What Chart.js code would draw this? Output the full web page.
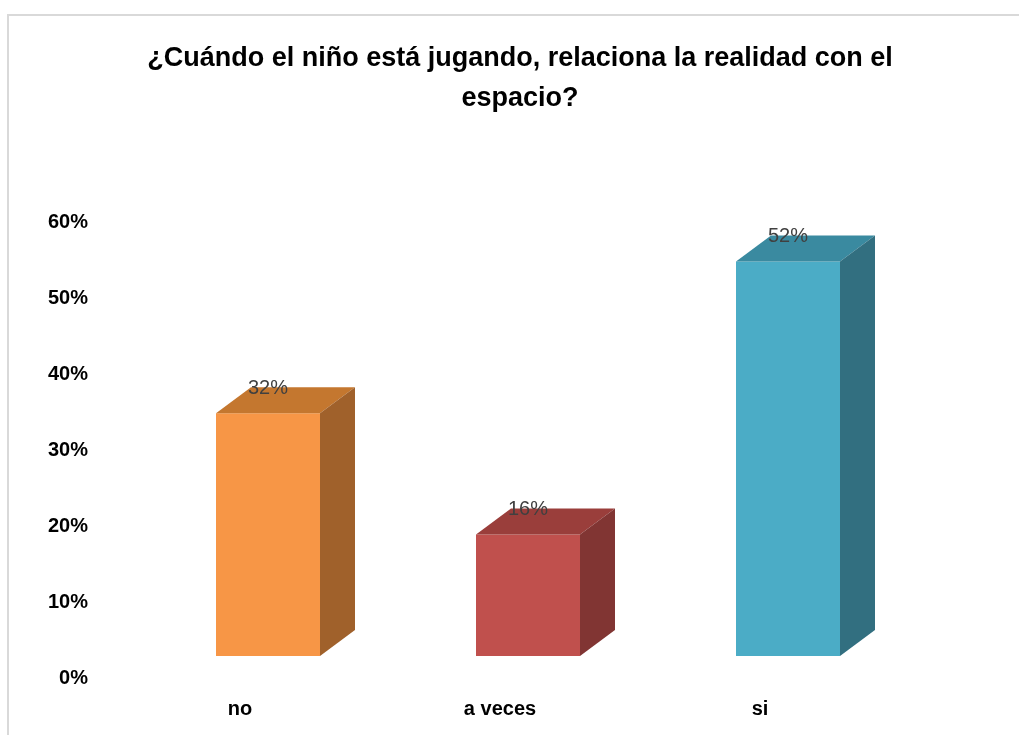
<!DOCTYPE html>
<html>
<head>
<meta charset="utf-8">
<script src="https://cdn.jsdelivr.net/npm/chart.js@4.4.0/dist/chart.umd.min.js"></script>
<style>
  html, body { margin: 0; padding: 0; background: #fff; }
  #wrap { width: 1019px; height: 735px; }
</style>
</head>
<body>
<div id="wrap"><canvas id="myChart" width="1019" height="735"></canvas></div>
<script>
  // datos
  const categories = ['no', 'a veces', 'si']
  const values = [0.32, 0.16, 0.52]
  const frontColors = ['#F79646', '#C0504D', '#4BACC6']
  const topColors = ['#C4772F', '#9A3E3B', '#3A8AA0']
  const sideColors = ['#A0612B', '#813533', '#326F80']

  const fontFamily = '"Liberation Sans", Arial, sans-serif'

  // marco gris del grafico
  const frame = {
    id: 'frame',
    beforeDraw(chart) {
      const c = chart.ctx
      c.save()
      c.strokeStyle = '#D9D9D9'
      c.lineWidth = 2
      c.beginPath()
      c.moveTo(8, chart.height)
      c.lineTo(8, 15)
      c.lineTo(chart.width, 15)
      c.stroke()
      c.restore()
    }
  }

  // barras en 3D: cara frontal movida, tapa y lateral
  const bars3d = {
    id: 'bars3d',
    beforeDatasetsDraw(chart, args, opts) {
      chart.ctx.save()
      chart.ctx.translate(opts.shiftX, -opts.shiftY)
    },
    afterDatasetsDraw(chart, args, opts) {
      const c = chart.ctx
      c.restore()
      const meta = chart.getDatasetMeta(0)
      const dx = opts.depthX
      const dy = opts.depthY
      meta.data.forEach((bar, i) => {
        const l = bar.x - bar.width / 2 + opts.shiftX
        const r = bar.x + bar.width / 2 + opts.shiftX
        const t = bar.y - opts.shiftY
        const b = bar.base - opts.shiftY
        // tapa
        c.fillStyle = topColors[i]
        c.beginPath()
        c.moveTo(l, t)
        c.lineTo(l + dx, t - dy)
        c.lineTo(r + dx, t - dy)
        c.lineTo(r, t)
        c.closePath()
        c.fill()
        // lateral
        c.fillStyle = sideColors[i]
        c.beginPath()
        c.moveTo(r, t)
        c.lineTo(r + dx, t - dy)
        c.lineTo(r + dx, b - dy)
        c.lineTo(r, b)
        c.closePath()
        c.fill()
        // etiqueta
        c.fillStyle = '#404040'
        c.font = '20px ' + fontFamily
        c.textAlign = 'center'
        c.textBaseline = 'middle'
        c.fillText(Math.round(values[i] * 100) + '%', bar.x + opts.shiftX, t - dy + 1)
      })
    }
  }

  const ctx = document.getElementById('myChart')

  // eslint-disable-next-line no-unused-vars
  const myChart = new Chart(ctx, {
    type: 'bar',
    plugins: [frame, bars3d],
    data: {
      labels: categories,
      datasets: [{
        data: values,
        backgroundColor: frontColors,
        borderWidth: 0,
        categoryPercentage: 0.8,
        barPercentage: 0.5,
      }]
    },
    options: {
      responsive: false,
      animation: false,
      layout: {
        padding: { left: 21, right: 0, top: 0, bottom: 0 }
      },
      plugins: {
        legend: { display: false },
        tooltip: { enabled: false },
        title: {
          display: true,
          text: ['¿Cuándo el niño está jugando, relaciona la realidad con el', 'espacio?'],
          color: '#000',
          font: { family: fontFamily, size: 27, weight: 'bold', lineHeight: 1.46 },
          padding: { top: 39, bottom: 105 },
        },
        bars3d: { shiftX: 28, shiftY: 22, depthX: 35, depthY: 26 },
      },
      scales: {
        x: {
          grid: { display: false, drawTicks: false },
          border: { display: false },
          ticks: {
            padding: 19,
            color: '#000',
            font: { family: fontFamily, size: 20, weight: 'bold' },
          },
          afterFit(scale) { scale.height = 57 },
        },
        y: {
          min: 0,
          max: 0.6,
          grid: { display: false, drawTicks: false },
          border: { display: false },
          ticks: {
            stepSize: 0.1,
            padding: 22,
            color: '#000',
            font: { family: fontFamily, size: 20, weight: 'bold' },
            callback: (v) => Math.round(v * 100) + '%',
          },
          afterFit(scale) { scale.width = 89 },
        },
        y2: {
          type: 'linear',
          position: 'right',
          grid: { display: false, drawTicks: false },
          border: { display: false },
          ticks: { display: false },
          afterFit(scale) { scale.width = 129 },
        },
      },
    }
  })
</script>
</body>
</html>
